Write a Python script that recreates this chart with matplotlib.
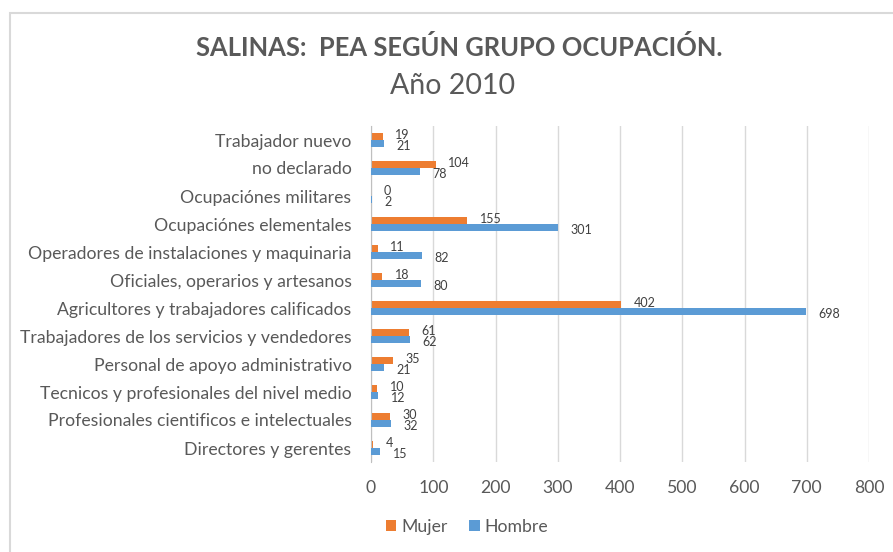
import matplotlib.pyplot as plt
from matplotlib.patches import Rectangle
import numpy as np

plt.rcParams['font.family'] = ['Lato', 'DejaVu Sans']

# categories, top to bottom as in the chart
categorias = ['Trabajador nuevo', 'no declarado', 'Ocupaciónes militares',
              'Ocupaciónes elementales', 'Operadores de instalaciones y maquinaria',
              'Oficiales, operarios y artesanos', 'Agricultores y trabajadores calificados',
              'Trabajadores de los servicios y vendedores', 'Personal de apoyo administrativo',
              'Tecnicos y profesionales del nivel medio',
              'Profesionales cientificos e intelectuales', 'Directores y gerentes']
mujer = [19, 104, 0, 155, 11, 18, 402, 61, 35, 10, 30, 4]
hombre = [21, 78, 2, 301, 82, 80, 698, 62, 21, 12, 32, 15]
xticks = [0, 100, 200, 300, 400, 500, 600, 700, 800]

c_mujer = '#ED7D31'
c_hombre = '#5B9BD5'
gris = '#595959'

fig = plt.figure(figsize=(8.93, 5.52), dpi=100)
ax = fig.add_axes([371 / 893, 1 - 462 / 552, (869 - 371) / 893, (462 - 126) / 552])

y = np.arange(len(categorias))
h = 0.26
ax.barh(y - h / 2, mujer, height=h, color=c_mujer, label='Mujer', zorder=3)
ax.barh(y + h / 2, hombre, height=h, color=c_hombre, label='Hombre', zorder=5)

for i in range(len(categorias)):
    ax.annotate(str(mujer[i]), (mujer[i], y[i] - h / 2), xytext=(9, 1),
                textcoords='offset points', va='center', ha='left', fontsize=9, color='#404040')
    ax.annotate(str(hombre[i]), (hombre[i], y[i] + h / 2), xytext=(9, -1.5),
                textcoords='offset points', va='center', ha='left', fontsize=9, color='#404040')

ax.set_ylim(len(categorias) - 0.5, -0.5)
ax.set_xlim(0, 800)
ax.set_xticks(xticks)
ax.set_yticks(y)
ax.set_yticklabels(categorias)
ax.tick_params(axis='both', length=0, colors=gris, labelsize=12.7)
ax.tick_params(axis='x', pad=13)
ax.tick_params(axis='y', pad=14)
ax.grid(axis='x', color='#D9D9D9', linewidth=1, zorder=0)
for s in ['top', 'right', 'bottom']:
    ax.spines[s].set_visible(False)
ax.spines['left'].set_color('#BFBFBF')
ax.spines['left'].set_zorder(4)

fig.text(459 / 893, 1 - 48 / 552, 'SALINAS:  PEA SEGÚN GRUPO OCUPACIÓN.', ha='center', va='center',
         fontsize=18.4, fontweight='bold', color=gris)
fig.text(453 / 893, 1 - 86 / 552, 'Año 2010', ha='center', va='center', fontsize=20.5, color=gris)

fig.legend(loc='center', bbox_to_anchor=(467 / 893, 1 - 527 / 552), ncol=2, frameon=False,
           fontsize=12.7, labelcolor=gris, handlelength=0.6, handleheight=0.6,
           handletextpad=0.3, columnspacing=1.2)

fig.patches.append(Rectangle((10 / 893, -0.1), 1.0, 1 - 13 / 552 + 0.1, transform=fig.transFigure,
                             fill=False, edgecolor='#D9D9D9', linewidth=1.5))

fig.savefig('out.png', dpi=100)
